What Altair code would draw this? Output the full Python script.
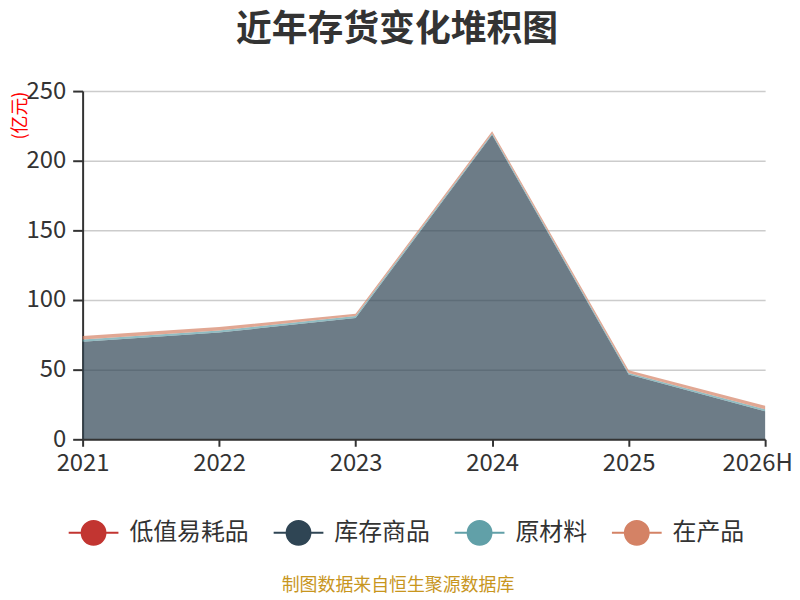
import altair as alt
import pandas as pd

years = ["2021", "2022", "2023", "2024", "2025", "2026H"]
series = ["低值易耗品", "库存商品", "原材料", "在产品"]
v_low = [0.1, 0.1, 0.1, 0.1, 0.1, 0.1]
v_stock = [70, 76.5, 87, 218.5, 46.5, 20]
v_raw = [1.5, 1.5, 1.5, 1, 1, 1.5]
v_wip = [2.5, 2.5, 1.5, 1.5, 2, 2.5]
colors = ["#c23531", "#2f4554", "#61a0a8", "#d48265"]
y_ticks = [0, 50, 100, 150, 200, 250]
title_text = "近年存货变化堆积图"
unit_text = "(亿元)"
footer_text = ["制图数据来自恒生聚源数据库"]

rows = []
for k, (s, vals) in enumerate(zip(series, [v_low, v_stock, v_raw, v_wip])):
    for y, v in zip(years, vals):
        rows.append({"year": y, "series": s, "value": v, "order": k})
df = pd.DataFrame(rows)

FONT = "Noto Sans CJK SC"
sym_path = "M-1,0L-0.48,0M0.48,0L1,0M0.48,0A0.48,0.48,0,1,1,-0.48,0A0.48,0.48,0,1,1,0.48,0Z"

x_enc = alt.X(
    "year:O",
    scale=alt.Scale(domain=years, type="point", padding=0),
    axis=alt.Axis(
        title=None, labelAngle=0, labelFontSize=24, labelColor="#333",
        labelFont=FONT, domainColor="#333", domainWidth=2, tickColor="#333",
        tickWidth=2, tickSize=7, labelPadding=5, zindex=1, grid=False,
        labelOffset={"condition": {"test": "datum.value === '2026H'", "value": -8},
                     "value": 0},
    ),
)
y_enc = alt.Y(
    "y1:Q",
    scale=alt.Scale(domain=[0, 250]),
    axis=alt.Axis(
        values=y_ticks, title=unit_text, titleColor="red", titleFontSize=18,
        titleFontWeight="normal", titleFont=FONT, titleX=-62, titleY=0,
        titleAlign="right", titleBaseline="middle", titleAngle=-90,
        labelFontSize=24, labelColor="#333", labelFont=FONT,
        domainColor="#333", domainWidth=2, tickColor="#333", tickWidth=2,
        tickSize=10, labelPadding=7, gridColor="#cccccc", gridWidth=1.5,
    ),
)
color_enc = alt.Color(
    "series:N",
    scale=alt.Scale(domain=series, range=colors),
    legend=alt.Legend(
        orient="none", legendX=-15, legendY=418, direction="horizontal",
        title=None, symbolType=sym_path, symbolSize=2500, symbolStrokeWidth=2,
        labelFontSize=24, labelColor="#333", labelFont=FONT,
        labelOffset=10, columnPadding=21, symbolOpacity=1,
    ),
)

base = alt.Chart(df).transform_stack(
    stack="value", as_=["y0", "y1"], groupby=["year"],
    sort=[alt.SortField("order", order="ascending")],
)
area = base.mark_area(fillOpacity=0.7).encode(
    x=x_enc, y=y_enc, y2="y0:Q", color=color_enc
)
line = base.mark_line(strokeWidth=2, strokeOpacity=0).encode(
    x=x_enc, y=y_enc, color=color_enc
)

footer = alt.Chart(pd.DataFrame({"t": footer_text})).mark_text(
    font=FONT, fontSize=18, color="#c8961e", align="center", baseline="middle"
).encode(text="t:N", x=alt.value(317), y=alt.value(497))

chart = alt.layer(area, line, footer).properties(
    width=686, height=350,
    autosize=alt.AutoSizeParams(type="none"),
    padding={"left": 75, "top": 82, "right": 27, "bottom": 158},
    title=alt.TitleParams(
        title_text, fontSize=36, fontWeight="bold", color="#333", font=FONT,
        anchor="middle", dx=-27, offset=30,
    ),
).configure_view(stroke=None)

chart.save("out.html", embed_options={"renderer": "svg", "actions": False})
